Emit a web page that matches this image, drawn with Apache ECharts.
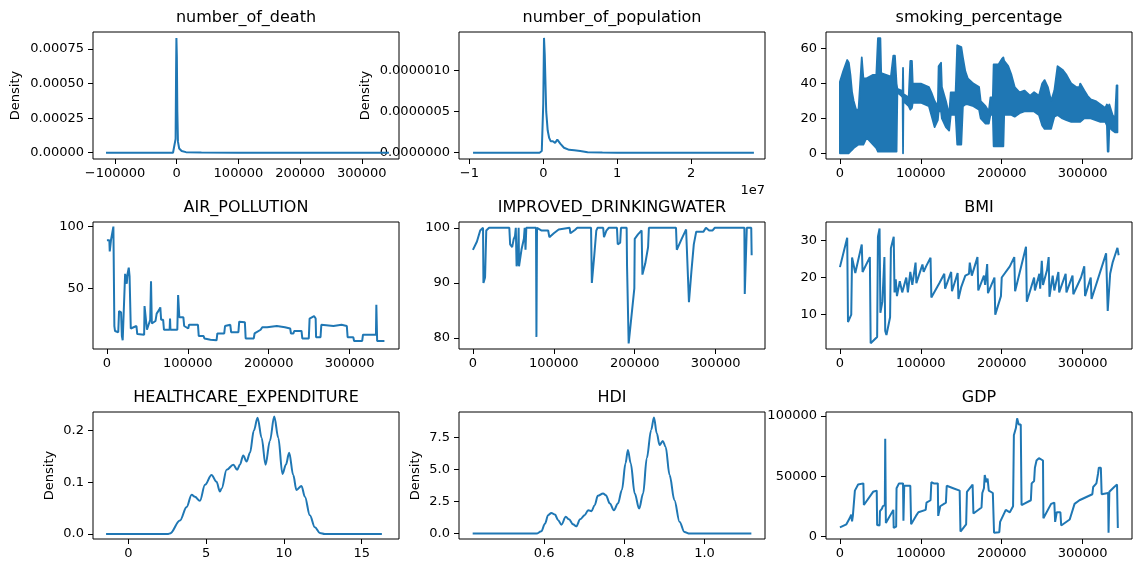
<!DOCTYPE html>
<html><head><meta charset="utf-8">
<script src="https://cdn.jsdelivr.net/npm/echarts@6/dist/echarts.min.js"></script>
<style>html,body{margin:0;padding:0;background:#fff}#c{width:1133px;height:566px}</style>
</head><body><div id="c"></div>
<script>
// ---------------- data ----------------
const titles = ['number_of_death','number_of_population','smoking_percentage','AIR_POLLUTION','IMPROVED_DRINKINGWATER','BMI','HEALTHCARE_EXPENDITURE','HDI','GDP'];

// KDE of number_of_death
const deathX = [-114600, -6000, -3000, -1800, -1000, -500, 200, 1000, 2000, 4000, 8000, 15000, 40000, 100000, 344000];
const deathY = [0, 0, 0.000005, 0.0001, 0.0006, 0.00083, 0.0007, 0.0003, 0.00008, 0.00003, 0.000012, 0.000004, 0.000001, 0, 0];

// KDE of number_of_population
const popX = [-0.95e7, -0.05e7, -0.02e7, 0, 0.01e7, 0.02e7, 0.04e7, 0.06e7, 0.08e7, 0.1e7, 0.13e7, 0.16e7, 0.19e7, 0.23e7, 0.28e7, 0.35e7, 0.42e7, 0.5e7, 0.6e7, 0.8e7, 1.0e7, 2.85e7];
const popY = [0, 0, 0.2e-7, 6e-7, 14e-7, 12e-7, 5e-7, 2.7e-7, 1.8e-7, 1.4e-7, 1.4e-7, 1.2e-7, 1.6e-7, 1.1e-7, 0.6e-7, 0.35e-7, 0.3e-7, 0.2e-7, 0.05e-7, 0.01e-7, 0.005e-7, 0];

// smoking_percentage: band of rapidly alternating values (upper / lower envelope by row index)
const smokeX  = [0,4000,9000,11000,13000,15000,17000,20000,23000,25000,27000,29000,33000,37000,41000,45000,47000,50000,51000,57000,63000,66000,68000,70000,71000,76000,77500,78000,78500,85000,87000,89000,90000,100000,110000,113000,117000,121000,122000,125000,126000,131000,135000,137000,143000,145000,150000,152000,155000,158000,165000,172000,174000,180000,184000,186000,189000,190000,196000,200000,202000,203000,208000,212000,216000,222000,228000,235000,240000,246000,250000,253000,257000,261000,265000,269000,275000,280000,286000,292000,296000,297000,302000,306000,310000,316000,322000,328000,330000,331000,332000,333000,337000,340000,342000,343000];
const smokeHi = [41,47,53.5,52,45,35,30,25,25,40,55,43,43,44,45,45,66,66,46,45,44,56,56,40,37,36,34,49,34,32,53,53,40,40,38,35,30,27,50,52,38,30,22,35,35,62,61,55,47,43,40,38,30,27,24,32,32,51,51,54,55,53,50,45,38,35,36,33,35,33,40,42,38,30,36,50,48,45,40,38,38,40,36,33,31,30,28,26,28,27,27,28,22,20,39,39];
const smokeLo = [0,0,0,0,1,2,3,4,5,5,5,5,9,7,5,3,1,1,1,1,1,1,1,1,35,33,32,0,30,27,25,26,29,29,27,22,15,19,24,24,20,15,13,22,22,5,5,27,28,28,27,25,20,17,17,22,22,4,4,4,4,22,22,22,21,23,24,24,24,22,16,14,14,14,21,22,20,19,18,18,18,18,20,20,20,19,18,18,16,1,1,15,13,12,12,12];

// AIR_POLLUTION by row index
const airX = [0,3000,3500,4500,5000,7000,8000,8500,9200,10000,14000,15000,17500,18500,19500,21500,22500,24000,24500,25500,27000,28000,29500,30500,36500,37500,46000,46500,48500,49500,51500,53500,54500,55500,60000,61500,64500,66000,67000,69500,70500,77500,78000,78500,87000,88000,89500,94500,95500,100500,101500,112500,113500,119500,120500,128000,135500,136500,145000,146000,152500,153500,162500,163500,170500,171500,181500,182500,190000,192000,198000,210000,220000,226500,227500,230500,231500,240500,241500,249500,250500,256000,258000,258500,264000,265000,280000,290000,296500,297500,304500,305500,315500,316500,332500,333000,334000,343000];
const airY = [89,89,80,80,89,90,100,100,20,16,15,32,31,12,8.5,8.5,62,61,54,62,67,60,18,19,20,13.5,13,36,37,17,17,25,56,22,24,30,33,35,25,25,17,17,26,17,17,45,27,27,20,18,21,21,12,12,10,9,8.5,14,14,20,21,15,15,23.5,23,10,10,14,17,19,19,20,19,18,14,14,16,16,10,10,26,28,26,11,11,21,20,21,20,11,11,8,8,13,13,37,8,8];

// IMPROVED_DRINKINGWATER by row index
const waterX = [0,5000,9000,12500,13000,15000,16500,20000,45000,46000,48500,50500,52000,53000,54000,55500,56500,57000,60000,63000,64000,65000,66000,78000,78500,79200,85000,93000,94500,100000,106000,108000,119500,120500,126000,129000,146000,147000,150000,152500,154000,161000,162000,165000,168000,178000,179000,182000,183000,190000,190500,191500,192500,199500,200000,204000,208500,209500,213000,216500,217500,251000,252000,258000,263500,265000,267000,270000,273000,276000,285000,288000,292000,296000,299000,335500,336000,338000,338500,344000,344500];
const waterY = [96,97.5,99.5,100,90,91,99.5,100,100,97,96.5,98,98.5,100,93,94,100,93,96,98,100,96,100,100,80.2,100,99.5,99.5,98.3,99,99.7,100,100,99,99.6,100,100,90,95,99.5,100,100,98.3,99.5,100,100,97,97.3,100,100,93,92.8,79,89,98,98.8,99.5,91.5,93.5,96.5,100,100,96,98,99.7,100,86.5,92,97,99.3,99.3,100,99.5,99.5,100,100,88,88,100,100,95];

// BMI by row index
const bmiX = [0,9000,10000,14000,15000,19000,27000,28000,37000,38000,46000,47000,49000,50000,52500,54000,55000,56000,57500,62000,63000,66500,67500,69000,70500,74000,77000,82000,84000,87000,89000,89500,93500,94500,102000,103500,106500,112000,113000,123000,129000,130000,137500,138500,145500,146500,150000,155000,159500,160500,163000,170000,171000,178000,179500,182000,183000,191000,192000,199000,200000,210000,215500,216500,230000,231000,240000,241000,246500,247500,249500,251000,256000,258000,259000,263000,265000,270000,271000,279000,280000,287500,288500,298000,302000,303000,310000,311000,329000,331000,334000,337000,340000,343000,344500];
const bmiY = [22.8,30.7,8,10,25.4,21.2,28.9,21.5,25.5,2.3,4,31,33.2,10.5,13.5,14,25.5,5.6,4.5,9.3,27.9,31,16,19.5,15,19,16,20,16,21.5,22,18,24,18.5,23.5,21.5,23,25.3,14.6,18.5,21,17,21.5,16.3,21.2,14.2,17.5,20.5,21,24,20.5,25.5,16.5,20.5,18,23.6,15.8,20,10,15,20,23,25.5,16.3,28.3,13.5,20,16.5,21,17,24.5,18,22,25.5,14.8,20.5,16.5,21.5,16,21,16,20.5,15.5,20,23,15,20,14.2,26.5,11,21,24,26,28,26];

// KDE of HEALTHCARE_EXPENDITURE
const healthX = [-1.43,2.57,2.68,3.32,3.75,4.07,4.28,4.6,4.93,5.35,5.67,5.89,6.0,6.32,6.75,7.0,7.17,7.39,7.6,7.82,8.07,8.31,8.57,8.82,9.1,9.38,9.64,9.91,10.13,10.34,10.6,10.81,11.13,11.35,11.67,11.99,12.31,12.63,16.3];
const healthY = [0,0,0.001,0.026,0.052,0.076,0.072,0.064,0.095,0.114,0.101,0.082,0.088,0.124,0.134,0.124,0.134,0.152,0.14,0.157,0.2,0.225,0.186,0.134,0.18,0.227,0.186,0.116,0.134,0.157,0.114,0.085,0.093,0.072,0.036,0.013,0.002,0,0];

// KDE of HDI
const hdiX = [0.4217,0.581,0.593,0.602,0.61,0.618,0.627,0.635,0.643,0.654,0.662,0.672,0.68,0.69,0.701,0.71,0.718,0.726,0.734,0.747,0.754,0.764,0.774,0.784,0.794,0.803,0.809,0.816,0.826,0.837,0.847,0.856,0.867,0.874,0.881,0.888,0.896,0.903,0.913,0.925,0.938,0.95,0.963,1.117];
const hdiY = [0,0,0.18,0.78,1.44,1.62,1.49,1.05,0.7,1.31,1.12,0.73,0.57,1.12,1.44,1.83,1.75,2.22,2.95,3.14,3.0,2.35,1.83,2.35,3.4,5.49,6.53,5.49,3.14,1.96,3.14,5.88,8.1,9.07,7.84,6.92,7.24,6.79,4.57,2.61,0.91,0.13,0,0];

// GDP by row index
const gdpX = [0,8000,12000,14000,15000,16000,18500,22500,23000,29000,29600,41000,45500,46000,49000,49500,52000,53000,55500,56000,56800,66000,66500,69500,70000,73000,78000,78500,79500,87000,88000,94000,97000,106000,107000,112000,113000,115000,116000,121000,121500,124000,131000,132000,140000,148000,149000,156000,157000,164000,165000,175000,176000,178000,179000,181000,182500,184000,189000,190500,197000,198000,205000,210000,214000,215000,217500,219000,221000,223500,224500,236000,237000,240000,241000,243000,246000,251000,251500,261000,265000,266000,268000,272500,273500,284000,290000,296000,312000,313000,317000,319000,320000,322500,323500,331500,332000,333000,339000,342500,343500];
const gdpY = [7500,10000,15000,18000,12500,17000,38000,43000,44000,44000,26000,37000,38000,9500,9000,21000,23000,25000,26000,81000,11000,22000,7000,8000,40000,44000,44000,13000,42000,42000,10000,17000,20000,22000,28000,30000,45000,46000,44000,44000,17000,25000,28000,42000,40000,38000,4000,10000,37000,43000,19000,24000,36000,40000,51000,45000,48000,38000,36000,3000,3500,12000,22000,20000,25000,84000,90000,98000,93000,93000,26000,30000,44000,46000,57000,63000,65000,63000,15000,27000,28000,12000,20000,20000,9000,14000,27000,30000,35000,41000,44000,52000,57000,57000,35000,36000,3000,37000,41000,43000,7000];

// tick values
const deathXTicks = [-100000, 0, 100000, 200000, 300000];
const deathYTicks = [0, 0.00025, 0.0005, 0.00075];
const popXTicks = [-1e7, 0, 1e7, 2e7];
const popYTicks = [0, 5e-7, 1e-6];
const indexTicks = [0, 100000, 200000, 300000];
const smokeYTicks = [0, 20, 40, 60];
const airYTicks = [50, 100];
const waterYTicks = [80, 90, 100];
const bmiYTicks = [10, 20, 30];
const healthXTicks = [0, 5, 10, 15];
const healthYTicks = [0, 0.1, 0.2];
const hdiXTicks = [0.6, 0.8, 1.0];
const hdiYTicks = [0, 2.5, 5, 7.5];
const gdpYTicks = [0, 50000, 100000];

// ---------------- layout / style ----------------
const FONT = 'DejaVu Sans';
const BLUE = '#1f77b4';
const COL_LEFT = [93, 459, 826];
const ROW_TOP = [32, 222, 412];
const W = 306, H = 127;
const IDX_RANGE = [-17200, 361000];

const mi = s => String(s).replace('-', '\u2212');
const fInt = v => mi(Math.round(v));
const fFix = n => v => mi(Number(v).toFixed(n));
const zip = (a, b) => a.map((x, i) => [x, b[i]]);

const panels = [
  {x: deathX, y: deathY, xr: [-135700, 360300], yr: [-0.0000456, 0.000873], xt: deathXTicks, yt: deathYTicks, fx: fInt, fy: fFix(5), density: 71},
  {x: popX, y: popY, xr: [-1.14e7, 3.0e7], yr: [-7.7e-8, 1.472e-6], xt: popXTicks, yt: popYTicks, fx: v => mi(Math.round(v / 1e7)), fy: fFix(7), density: 87},
  {band: true, xr: IDX_RANGE, yr: [-3.3, 69.6], xt: indexTicks, yt: smokeYTicks, fx: fInt, fy: fInt},
  {x: airX, y: airY, xr: IDX_RANGE, yr: [1.5, 103.7], xt: indexTicks, yt: airYTicks, fx: fInt, fy: fInt},
  {x: waterX, y: waterY, xr: IDX_RANGE, yr: [78.0, 101.05], xt: indexTicks, yt: waterYTicks, fx: fInt, fy: fInt},
  {x: bmiX, y: bmiY, xr: IDX_RANGE, yr: [0.75, 34.95], xt: indexTicks, yt: bmiYTicks, fx: fInt, fy: fInt},
  {x: healthX, y: healthY, xr: [-2.27, 17.4], yr: [-0.00975, 0.2359], xt: healthXTicks, yt: healthYTicks, fx: fInt, fy: fFix(1), density: 37, smooth: true},
  {x: hdiX, y: hdiY, xr: [0.3876, 1.151], yr: [-0.42, 9.5], xt: hdiXTicks, yt: hdiYTicks, fx: fFix(1), fy: fFix(1), density: 37, smooth: true},
  {x: gdpX, y: gdpY, xr: IDX_RANGE, yr: [-2200, 103300], xt: indexTicks, yt: gdpYTicks, fx: fInt, fy: fInt}
];

const grid = [], xAxis = [], yAxis = [], series = [], graphic = [];
panels.forEach((p, i) => {
  const left = COL_LEFT[i % 3], top = ROW_TOP[Math.floor(i / 3)];
  grid.push({left, top, width: W, height: H, show: true, borderColor: '#000', borderWidth: 1, backgroundColor: 'transparent'});
  const lab = {fontFamily: FONT, fontSize: 13, color: '#000'};
  xAxis.push({type: 'value', gridIndex: i, min: p.xr[0], max: p.xr[1],
    axisLine: {show: false, onZero: false}, splitLine: {show: false},
    axisTick: {show: true, length: 5, lineStyle: {color: '#000', width: 1}, customValues: p.xt},
    axisLabel: Object.assign({customValues: p.xt, formatter: p.fx, margin: 8}, lab)});
  yAxis.push({type: 'value', gridIndex: i, min: p.yr[0], max: p.yr[1],
    axisLine: {show: false, onZero: false}, splitLine: {show: false},
    axisTick: {show: true, length: 5, lineStyle: {color: '#000', width: 1}, customValues: p.yt},
    axisLabel: Object.assign({customValues: p.yt, formatter: p.fy, margin: 9}, lab),
    name: p.density ? 'Density' : '', nameLocation: 'middle', nameGap: p.density || 0,
    nameTextStyle: lab});
  if (p.band) {
    series.push({type: 'custom', xAxisIndex: i, yAxisIndex: i, animation: false,
      data: smokeX.map((x, k) => [x, smokeHi[k], smokeLo[k]]), encode: {x: 0, y: [1, 2]},
      renderItem: (params, api) => {
        if (params.dataIndex !== 0) return null;
        const pts = [];
        for (let k = 0; k < smokeX.length; k++) pts.push(api.coord([smokeX[k], smokeHi[k]]));
        for (let k = smokeX.length - 1; k >= 0; k--) pts.push(api.coord([smokeX[k], smokeLo[k]]));
        return {type: 'polygon', shape: {points: pts}, style: {fill: BLUE, stroke: BLUE, lineWidth: 1.8, lineJoin: 'round'}};
      }});
  } else {
    series.push({type: 'line', xAxisIndex: i, yAxisIndex: i, data: zip(p.x, p.y), showSymbol: false, symbol: 'none',
      smooth: p.smooth ? 0.35 : false, smoothMonotone: p.smooth ? 'x' : undefined,
      lineStyle: {color: BLUE, width: 2}, animation: false});
  }
  graphic.push({type: 'text', x: left + W / 2, y: top - 14,
    style: {text: titles[i], align: 'center', verticalAlign: 'middle', textAlign: 'center', textVerticalAlign: 'middle',
      fontFamily: FONT, fontSize: 16, fill: '#000'}});
});
graphic.push({type: 'text', x: COL_LEFT[1] + W, y: 191,
  style: {text: '1e7', align: 'right', verticalAlign: 'middle', textAlign: 'right', textVerticalAlign: 'middle',
    fontFamily: FONT, fontSize: 13, fill: '#000'}});

const chart = echarts.init(document.getElementById('c'), null, {renderer: 'canvas'});
chart.setOption({animation: false, backgroundColor: '#fff', textStyle: {fontFamily: FONT}, grid, xAxis, yAxis, series, graphic});
</script>
</body></html>
